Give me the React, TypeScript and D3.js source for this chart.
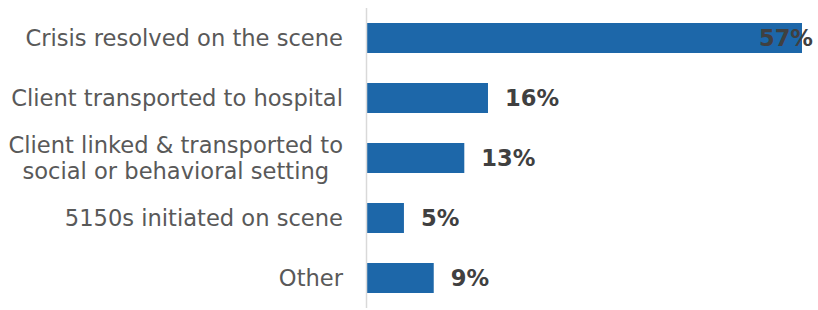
import React, { useEffect, useRef } from 'react';
import * as d3 from 'd3';

const categories = [
  'Crisis resolved on the scene',
  'Client transported to hospital',
  'Client linked & transported to\nsocial or behavioral setting',
  '5150s initiated on scene',
  'Other',
];
const values = [57.0, 15.9, 12.8, 4.9, 8.8];

const W = 818;
const H = 310;

const App = () => {
  const svgRef = useRef<SVGSVGElement>(null);

  useEffect(() => {
    const svg = d3.select(svgRef.current);
    svg.selectAll('*').remove();

    const axisX = 366.5;
    const labelRight = 343;

    const x = d3.scaleLinear().domain([0, d3.max(values)]).range([axisX, 802]);
    const y = d3
      .scaleBand()
      .domain(categories)
      .range([8, 308])
      .paddingInner(0.5)
      .paddingOuter(0.25);

    const fmt = d3.format('.0f');

    // bars
    svg
      .selectAll('rect.bar')
      .data(values)
      .enter()
      .append('rect')
      .attr('class', 'bar')
      .attr('x', axisX)
      .attr('y', (d, i) => y(categories[i]))
      .attr('width', d => x(d) - axisX)
      .attr('height', y.bandwidth())
      .style('fill', '#1d67a9');

    // axis line
    svg
      .append('line')
      .attr('x1', axisX)
      .attr('x2', axisX)
      .attr('y1', 8)
      .attr('y2', 308)
      .style('stroke', '#d9d9d9')
      .style('stroke-width', 1.5);

    // category labels (multi-line ones are centred as a block)
    categories.forEach(cat => {
      const lines = cat.split('\n');
      const cy = y(cat) + y.bandwidth() / 2;
      const lineH = 26;
      const g = svg.append('g');
      const texts = lines.map((ln, j) =>
        g
          .append('text')
          .attr('y', cy + (j - (lines.length - 1) / 2) * lineH)
          .attr('dy', '0.37em')
          .style('font-family', 'DejaVu Sans, Verdana, sans-serif')
          .style('font-size', '22.6px')
          .style('fill', '#595959')
          .text(ln),
      );
      const widths = texts.map(t => (t.node() as SVGTextElement).getComputedTextLength());
      const maxW = d3.max(widths);
      texts.forEach(t => {
        t.attr('text-anchor', 'middle').attr('x', labelRight - maxW / 2);
      });
    });

    // value labels
    const maxV = d3.max(values);
    svg
      .selectAll('text.val')
      .data(values)
      .enter()
      .append('text')
      .attr('class', 'val')
      .attr('x', d => (d === maxV ? x(d) + 11 : x(d) + 17))
      .attr('text-anchor', d => (d === maxV ? 'end' : 'start'))
      .attr('y', (d, i) => y(categories[i]) + y.bandwidth() / 2)
      .attr('dy', '0.37em')
      .style('font-family', 'DejaVu Sans, Verdana, sans-serif')
      .style('font-size', '22.6px')
      .style('font-weight', 'bold')
      .style('fill', '#404040')
      .text(d => `${fmt(d)}%`);
  }, []);

  return (
    <svg
      ref={svgRef}
      width={W}
      height={H}
      style={{ position: 'absolute', left: 0, top: 0, background: '#fff' }}
    />
  );
};

export default App;
